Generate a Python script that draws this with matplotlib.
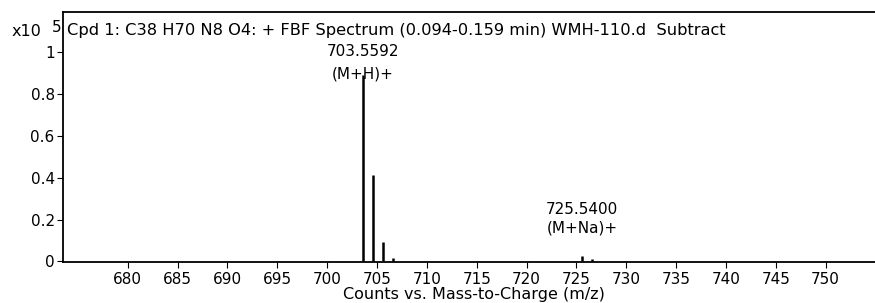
import matplotlib.pyplot as plt
import numpy as np

# pics (m/z, intensité en x10^5)
mz = [703.56, 704.56, 705.56, 706.56, 725.54, 726.54]
intens = [0.89, 0.414, 0.095, 0.015, 0.025, 0.014]

# étiquettes des pics
lab_mz = [703.5592, 725.5400]
lab_txt = ["(M+H)+", "(M+Na)+"]
lab_y1 = [1.0, 0.248]
lab_y2 = [0.895, 0.162]

xticks = np.arange(680, 755, 5)
yticks = [0, 0.2, 0.4, 0.6, 0.8, 1]

titre = "Cpd 1: C38 H70 N8 O4: + FBF Spectrum (0.094-0.159 min) WMH-110.d  Subtract"

fig = plt.figure(figsize=(8.75, 3.03), dpi=100)
ax = fig.add_axes([0.072, 0.135, 0.94, 0.825])

ax.vlines(mz, 0, intens, color='black', lw=1.8)

for m, t, y1, y2 in zip(lab_mz, lab_txt, lab_y1, lab_y2):
    ax.text(m, y1, "%.4f" % m, ha='center', va='center', fontsize=11)
    ax.text(m, y2, t, ha='center', va='center', fontsize=11)

ax.set_xlim(673.5, 756)
ax.set_ylim(-0.003, 1.19)
ax.set_xticks(xticks)
ax.set_xticklabels([str(v) if v != 675 else "" for v in xticks])
ax.set_yticks(yticks)
ax.set_yticklabels(["0", "0.2", "0.4", "0.6", "0.8", "1"])
ax.tick_params(labelsize=11, length=4, width=0.8)
ax.tick_params(axis='x', pad=3)
ax.tick_params(axis='y', pad=2)

ax.spines['right'].set_visible(False)
for s in ['left', 'top', 'bottom']:
    ax.spines[s].set_linewidth(1.3)

ax.text(0.005, 0.928, titre, transform=ax.transAxes, ha='left', va='center', fontsize=11.7)
fig.text(0.013, 0.895, "x10", fontsize=11.5, va='center')
fig.text(0.059, 0.91, "5", fontsize=11, va='center')

ax.set_xlabel("Counts vs. Mass-to-Charge (m/z)", fontsize=11.5, labelpad=0)

plt.savefig("out.png", dpi=100)
